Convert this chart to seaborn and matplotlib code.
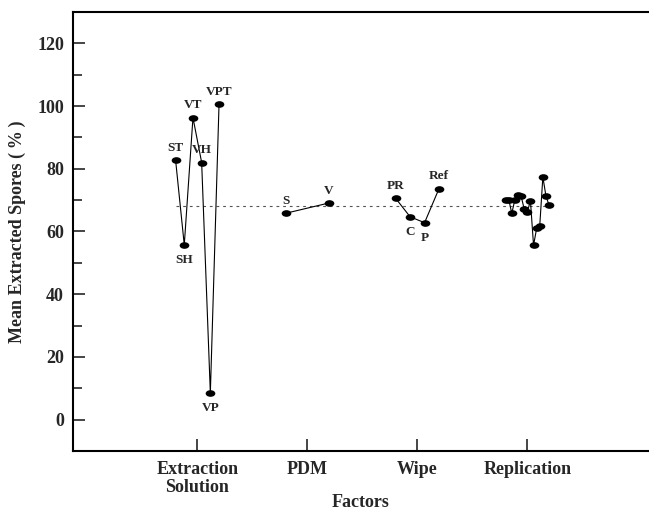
import matplotlib
matplotlib.use("Agg")
import matplotlib.pyplot as plt
import seaborn as sns
import numpy as np
import pandas as pd
from matplotlib.markers import MarkerStyle
from matplotlib.transforms import Affine2D

# ---- data ----
factors = ["Extraction\nSolution", "PDM", "Wipe", "Replication"]

extraction_labels = ["ST", "SH", "VT", "VH", "VP", "VPT"]
extraction_values = [82.8, 55.7, 96.3, 82.0, 8.5, 100.6]
extraction_label_pos = ["above", "below", "above", "above", "below", "above"]

pdm_labels = ["S", "V"]
pdm_values = [65.8, 69.1]
pdm_label_pos = ["above", "above"]

wipe_labels = ["PR", "C", "P", "Ref"]
wipe_values = [70.6, 64.7, 62.8, 73.7]
wipe_label_pos = ["above", "below", "below", "above"]

replication_values = [70.0, 70.2, 65.8, 70.2, 71.6, 71.3, 67.1, 66.3, 69.8,
                      55.6, 61.0, 61.8, 77.4, 71.3, 68.4]

grand_mean = 68.0

groups = [
    (extraction_values, extraction_labels, extraction_label_pos),
    (pdm_values, pdm_labels, pdm_label_pos),
    (wipe_values, wipe_labels, wipe_label_pos),
    (replication_values, [""] * len(replication_values), [None] * len(replication_values)),
]

span = 0.395
rows = []
for gi, (vals, labs, lpos) in enumerate(groups):
    center = gi + 1
    xs = np.linspace(center - span / 2, center + span / 2, len(vals))
    for x, v, l, p in zip(xs, vals, labs, lpos):
        rows.append({"factor": factors[gi], "x": x, "y": v, "label": l, "pos": p})
df = pd.DataFrame(rows)

# ---- plot ----
sns.set_theme(style="white")
plt.rcParams["font.family"] = ["Liberation Serif", "DejaVu Serif"]
plt.rcParams["font.weight"] = "bold"

fig = plt.figure(figsize=(6.49, 5.14), dpi=100)
ax = fig.add_axes([73 / 649, 1 - 451 / 514, 1 - 73 / 649, (451 - 12) / 514])

ellipse = MarkerStyle("o", transform=Affine2D().scale(1.45, 1.0))

ax.plot([df["x"].min(), df["x"].max()], [grand_mean, grand_mean],
        color="#555555", lw=0.8, dashes=(2.5, 3.5), zorder=1)

sns.lineplot(data=df, x="x", y="y", units="factor", estimator=None, sort=False,
             color="black", lw=0.8, marker=ellipse, markersize=4.8,
             markeredgewidth=0, markerfacecolor="black", ax=ax, zorder=3)

for _, r in df.iterrows():
    if not r["label"]:
        continue
    if r["pos"] == "above":
        ax.annotate(r["label"], (r["x"], r["y"]), xytext=(0, 4.5),
                    textcoords="offset points", ha="center", va="bottom",
                    fontsize=9.5, fontweight="bold")
    else:
        ax.annotate(r["label"], (r["x"], r["y"]), xytext=(0, -6.5),
                    textcoords="offset points", ha="center", va="top",
                    fontsize=9.5, fontweight="bold")

ax.set_xlim(-0.13, 5.106)
ax.set_ylim(-10, 130)
ax.set_xticks([1, 2, 3, 4])
ax.set_xticklabels(factors, fontsize=13, fontweight="bold", linespacing=1.05)
ax.set_yticks([0, 20, 40, 60, 80, 100, 120])
ax.set_yticks(np.arange(-10, 131, 10), minor=True)
ax.tick_params(axis="y", which="major", direction="in", length=8.5, width=1.2,
               labelsize=13, pad=6.5, left=True)
ax.tick_params(axis="y", which="minor", direction="in", length=6.5, width=1.2, left=True)
ax.tick_params(axis="x", which="major", direction="in", length=8.5, width=1.2,
               labelsize=13, pad=7.5, bottom=True)
for t in ax.get_yticklabels():
    t.set_fontweight("bold")

ax.set_xlabel("Factors", fontsize=13, fontweight="bold", labelpad=-1.5)
ax.set_ylabel("Mean Extracted Spores (\u2009%\u2009)", fontsize=13, fontweight="bold", labelpad=8)

for s in ["left", "bottom", "top"]:
    ax.spines[s].set_color("black")
    ax.spines[s].set_linewidth(1.5)
ax.spines["right"].set_visible(False)

fig.savefig("out.png", dpi=100)
